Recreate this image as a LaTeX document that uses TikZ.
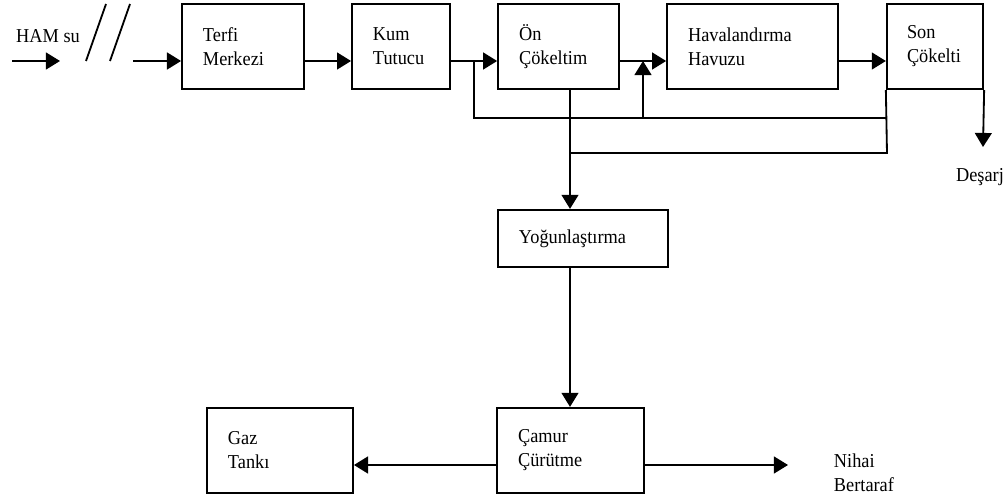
\documentclass[tikz,border=0pt]{standalone}
\usepackage{fontspec}
\setmainfont{Liberation Serif}[FakeStretch=0.93]
\usepackage{tikz}
\usetikzlibrary{arrows.meta,positioning,calc}

\begin{document}
\begin{tikzpicture}[x=0.025cm,y=-0.025cm,font=\fontsize{14pt}{17pt}\selectfont,
                unit/.style={draw,line width=1.6pt,minimum height=2.125cm,align=left,inner xsep=0.52cm},
                pipe/.style={line width=1.3pt},
                flow/.style={pipe,-{Triangle[length=10pt,width=12pt]}}]
                \useasboundingbox (0,0) rectangle (1008,498);
                \node[unit,text width=2.0cm] (terfi) at (243,46.5) {Terfi\\Merkezi};
                \node[unit,text width=1.4cm] (kum) at (401,46.5) {Kum\\Tutucu};
                \node[unit,text width=1.97cm] (on) at (558.5,46.5) {Ön\\Çökeltim};
                \node[unit,text width=3.22cm] (hav) at (752.5,46.5) {Havalandırma\\Havuzu};
                \node[unit,text width=1.4cm,inner xsep=0.5cm] (son) at (935,46.5) {Son\\Çökelti};
                \node[unit,text width=3.2cm,minimum height=1.425cm] (yog) at (583,238.5) {Yoğunlaştırma};
                \node[unit,text width=2.6cm] (gaz) at (280,450.5) {Gaz\\Tankı};
                \node[unit,text width=2.62cm] (camur) at (570.5,450.5) {Çamur\\Çürütme};
                \node (ham) at (48,36) {HAM su};
                \node (desarj) at (980,177) {Deşarj};
                \node[anchor=west,align=left] (nihai) at (829,473) {Nihai\\Bertaraf};
                \coordinate (mainline) at (0,61);
                \coordinate (hamin) at (12,61);
                \coordinate (hamout) at (60,61);
                \coordinate (feed) at (133,61);
                \coordinate (split) at (474,61);
                \coordinate (ret1) at (474,118);
                \coordinate (ret2) at (643,118);
                \coordinate (join) at (643,61);
                \coordinate (sonlow) at (887,153);
                \coordinate (onlow) at (570,153);
                \coordinate (out) at (983,147);
                \coordinate (gasline) at (0,465);
                \coordinate (final) at (788,465);
                % inlet and break marks
                \draw[flow] (hamin) -- (hamout);
                \draw[pipe] (86,61) -- (106,4);
                \draw[pipe] (110,61) -- (130,4);
                \draw[flow] (feed) -- (terfi.west |- feed);
                % main line
                \draw[flow] (terfi.east |- mainline) -- (kum.west |- mainline);
                \draw[flow] (kum.east |- mainline) -- (on.west |- mainline);
                \draw[flow] (on.east |- mainline) -- (hav.west |- mainline);
                \draw[flow] (hav.east |- mainline) -- (son.west |- mainline);
                \draw[flow] (son.south east) -- (out);
                % return and sludge lines
                \draw[pipe] (split) -- (ret1) -- (son.south west |- ret1);
                \draw[flow] (ret2) -- (join);
                \draw[pipe] (son.south west) -- (sonlow) -- (onlow);
                \draw[flow] (on.south -| onlow) -- (yog.north -| onlow);
                \draw[flow] (yog.south -| onlow) -- (camur.north -| onlow);
                \draw[flow] (camur.west |- gasline) -- (gaz.east |- gasline);
                \draw[flow] (camur.east |- gasline) -- (final);
\end{tikzpicture}
\end{document}
